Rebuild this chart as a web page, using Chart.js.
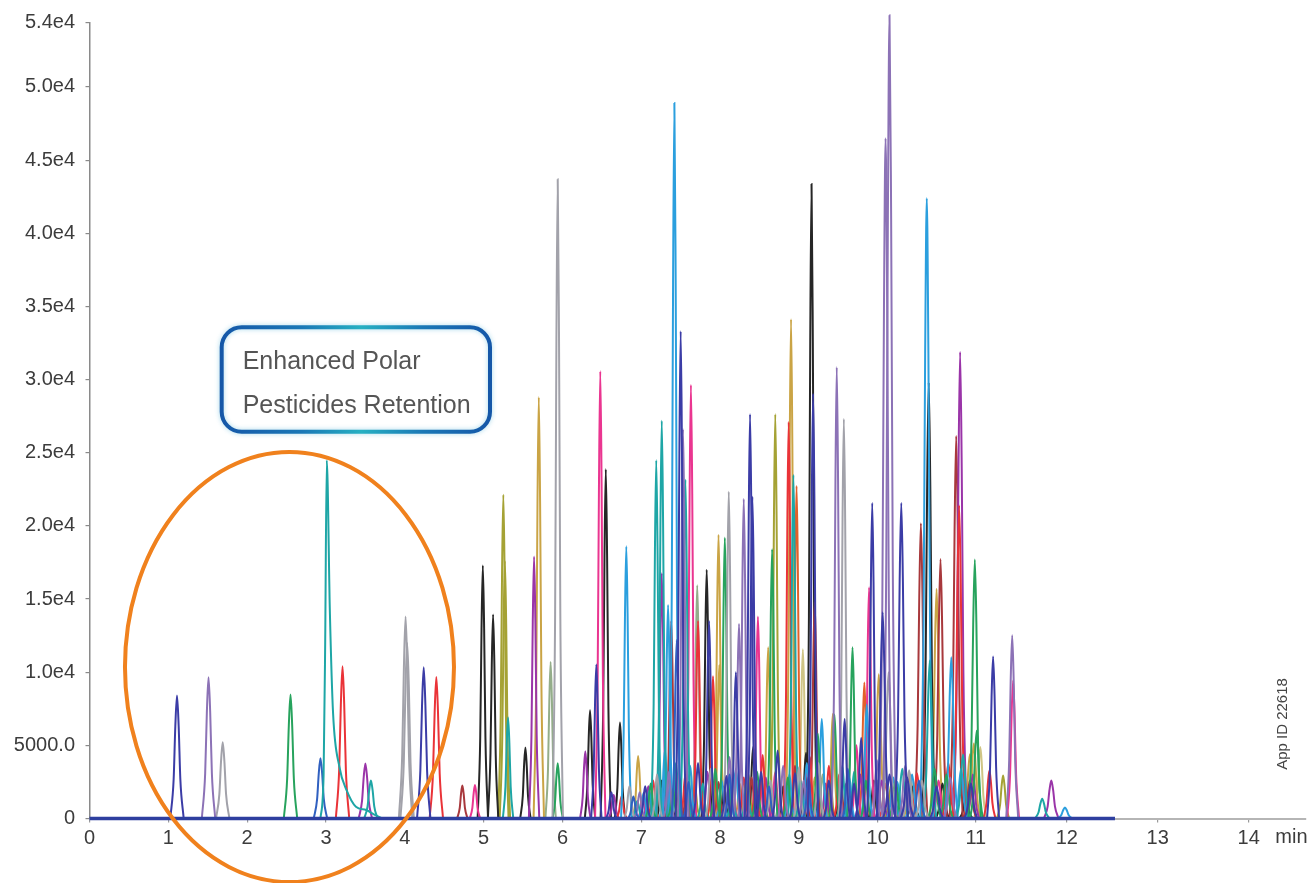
<!DOCTYPE html>
<html>
<head>
<meta charset="utf-8">
<title>Polar pesticides chromatogram</title>
<script src="https://cdn.jsdelivr.net/npm/chart.js@4.4.1/dist/chart.umd.min.js"></script>
<style>
  html, body { margin: 0; padding: 0; background: #ffffff; }
  canvas { display: block; }
</style>
</head>
<body>
<canvas id="chrom" width="1311" height="883"></canvas>
<script>
// ---- Axis ticks ----
const minuteTicks = [0, 1, 2, 3, 4, 5, 6, 7, 8, 9, 10, 11, 12, 13, 14];
const minuteTickLabels = ['0', '1', '2', '3', '4', '5', '6', '7', '8', '9', '10', '11', '12', '13', '14'];
const intensityTicks = [0, 5000, 10000, 15000, 20000, 25000, 30000, 35000, 40000, 45000, 50000, 54400];
const intensityTickLabels = ['0', '5000.0', '1.0e4', '1.5e4', '2.0e4', '2.5e4', '3.0e4', '3.5e4', '4.0e4', '4.5e4', '5.0e4', '5.4e4'];

// ---- Peaks per trace colour: [retention time (min), height (counts)] ----
const indigoPeaks = [[1.11, 8400], [4.24, 10330], [6.43, 10530], [6.62, 1800], [7.05, 2200], [7.50, 33300], [7.72, 3800], [7.86, 13500], [8.08, 2900], [8.20, 10000], [8.38, 27630], [8.41, 22000], [8.52, 3200], [8.73, 4650], [8.95, 3100], [9.18, 29040], [9.38, 2600], [9.58, 6800], [9.70, 2400], [9.79, 5500], [9.93, 21570], [10.05, 14100], [10.12, 3000], [10.24, 21570], [10.30, 2800], [10.60, 2200], [10.95, 2400], [11.19, 11080]];
const bluePeaks = [[2.93, 4120], [6.90, 1500], [7.45, 12200], [7.60, 2500], [8.12, 3000], [8.62, 2200], [9.12, 2800], [9.62, 3400], [10.42, 2600]];
const lavenderPeaks = [[1.51, 9650], [6.98, 1800], [7.35, 3200], [7.53, 26600], [8.12, 4200], [8.24, 13300], [8.30, 21840], [8.80, 3600], [9.06, 2600], [9.48, 30850], [9.99, 4000], [10.08, 46500], [10.12, 54900], [10.28, 3600], [10.74, 2800], [11.40, 12520]];
const grayPeaks = [[1.69, 5220], [4.01, 13800], [4.03, 12000], [5.94, 43700], [6.85, 2200], [7.20, 3000], [7.88, 3400], [8.11, 22330], [8.64, 2600], [9.00, 3500], [9.25, 3800], [9.57, 27300], [10.11, 10000], [10.32, 3300], [10.45, 2600]];
const greenPeaks = [[2.55, 8480], [5.94, 3780], [7.12, 2400], [7.40, 2000], [7.94, 3400], [8.06, 19200], [8.47, 3200], [8.66, 18400], [8.86, 2800], [9.24, 5800], [9.45, 7100], [9.68, 11700], [9.85, 2600], [10.18, 2600], [10.58, 3400], [10.70, 3000], [10.99, 17700], [11.01, 6000]];
const tealPeaks = [[3.57, 2600], [5.31, 6900], [6.95, 1200], [7.19, 24490], [7.26, 27180], [7.44, 3800], [7.56, 23150], [7.78, 2400], [8.15, 2500], [8.34, 3000], [8.93, 23480], [9.02, 2600], [9.55, 3600], [9.70, 3200], [10.25, 3400], [10.53, 10800], [10.87, 4380], [11.73, 1350]];
const lightBluePeaks = [[6.81, 18600], [7.03, 1740], [7.10, 1880], [7.22, 3200], [7.30, 4680], [7.34, 14600], [7.42, 48900], [7.62, 3600], [8.02, 2600], [8.20, 3400], [8.88, 3000], [9.10, 3800], [9.29, 6800], [9.64, 2800], [9.86, 7800], [10.16, 2800], [10.20, 2500], [10.35, 3000], [10.50, 42400], [10.75, 11030], [10.85, 3400], [11.98, 750]];
const redPeaks = [[3.21, 10400], [4.40, 9670], [6.75, 1500], [7.15, 2600], [7.56, 3000], [7.72, 13500], [7.91, 9730], [8.30, 2800], [8.45, 2600], [8.54, 4340], [8.87, 27100], [9.14, 4200], [9.38, 3600], [9.51, 3000], [10.08, 2400], [10.40, 3100], [10.72, 3800], [10.83, 21400], [11.15, 3280]];
const purplePeaks = [[3.50, 3760], [5.64, 17900], [6.29, 4600], [6.65, 1600], [7.09, 2200], [7.26, 16760], [7.84, 3200], [8.58, 2800], [9.34, 2400], [9.78, 3000], [10.04, 2600], [10.84, 31880], [10.97, 3000], [11.83, 2600]];
const pinkPeaks = [[4.89, 2290], [6.48, 30570], [7.02, 1500], [7.32, 2600], [7.63, 29630], [8.16, 2400], [8.48, 13800], [8.70, 3200], [9.10, 3500], [9.73, 5000], [9.89, 15800], [10.30, 2800], [10.62, 2600], [11.41, 9440]];
const brownPeaks = [[4.73, 2260], [7.38, 13500], [7.58, 2600], [7.98, 2500], [8.40, 2800], [8.95, 3600], [9.20, 14800], [9.60, 2400], [10.20, 2200], [10.44, 20180], [10.64, 17730], [10.80, 26140], [10.94, 2600]];
const blackPeaks = [[4.99, 17300], [5.12, 13950], [5.53, 4860], [6.35, 7400], [6.55, 23870], [6.73, 6560], [7.26, 2600], [7.48, 2800], [7.83, 17000], [8.05, 2200], [8.42, 4900], [8.80, 2200], [9.09, 4500], [9.16, 43370], [9.52, 3000], [9.95, 2600], [10.36, 2200], [10.52, 29800], [10.66, 2400], [10.90, 1500]];
const olivePeaks = [[5.25, 22130], [5.27, 17600], [7.68, 2200], [7.90, 2600], [8.36, 3000], [8.70, 27630], [9.40, 2400], [10.14, 2400], [11.30, 2940]];
const goldPeaks = [[5.70, 28800], [6.96, 4270], [7.25, 2000], [7.58, 2200], [7.98, 19400], [7.99, 10500], [8.25, 2400], [8.61, 11700], [8.90, 34130], [9.20, 2800], [9.43, 7150], [10.01, 9860], [10.33, 3000], [10.60, 15700], [10.94, 4400], [10.98, 5130]];
const sagePeaks = [[5.85, 10700], [7.71, 15950], [8.20, 3200], [9.30, 3000], [10.00, 2600]];
const orangePeaks = [[8.97, 22730], [9.83, 9300]];
const khakiPeaks = [[9.05, 11560], [11.05, 4880]];

// Strongly tailing early eluter, traced point by point: [min, counts]
const tealTailTrace = [[2.93, 0], [2.97, 3000], [2.99, 12000], [3.01, 24490], [3.05, 14000], [3.09, 7200], [3.17, 3540], [3.26, 1950], [3.38, 800], [3.51, 580], [3.62, 250], [3.72, 0]];

// Acquisition window of the baseline trace (min)
const baselineWindow = [0, 12.53];

// ---- Styles ----
const FONT = '"Liberation Sans", Arial, Helvetica, sans-serif';
const TEXT = '#3c3c3c';
const traceGroups = [
  { peaks: indigoPeaks, color: '#3b3ca6' },
  { peaks: bluePeaks, color: '#3060c0' },
  { peaks: lavenderPeaks, color: '#8c72b6' },
  { peaks: grayPeaks, color: '#a2a2aa' },
  { peaks: greenPeaks, color: '#27a35d' },
  { peaks: tealPeaks, color: '#1ea6a6' },
  { peaks: lightBluePeaks, color: '#2b9fde' },
  { peaks: redPeaks, color: '#ea3338' },
  { peaks: purplePeaks, color: '#9a34a8' },
  { peaks: pinkPeaks, color: '#ea3590' },
  { peaks: brownPeaks, color: '#a8383c' },
  { peaks: blackPeaks, color: '#262626' },
  { peaks: olivePeaks, color: '#a5a234' },
  { peaks: goldPeaks, color: '#caa445' },
  { peaks: sagePeaks, color: '#94ad8a' },
  { peaks: orangePeaks, color: '#e2602a' },
  { peaks: khakiPeaks, color: '#cfc585' }
];

// Peak outline: offsets in half-widths and relative levels
const PEAK_OUTLINE = { offsets: [-1, -0.5, -0.25, 0, 0.25, 0.5, 1], levels: [0, 0.32, 0.75, 1, 0.75, 0.32, 0] };
function halfWidth(t) { return t < 4.6 ? 0.085 : (t > 11.5 ? 0.08 : 0.066); }

// Time axis is expanded after 10 min
const timeSegments = [{ from: 0, rate: 1 }, { from: 10, rate: 1.244 }, { from: 11, rate: 1.154 }];
function stretch(v) {
  if (v <= 0) return v;
  let u = 0;
  for (let i = 0; i < timeSegments.length; i++) {
    const s = timeSegments[i];
    const end = i + 1 < timeSegments.length ? timeSegments[i + 1].from : Infinity;
    if (v <= s.from) break;
    u += (Math.min(v, end) - s.from) * s.rate;
  }
  return u;
}
function unstretch(u) {
  if (u <= 0) return u;
  let acc = 0;
  for (let i = 0; i < timeSegments.length; i++) {
    const s = timeSegments[i];
    const end = i + 1 < timeSegments.length ? timeSegments[i + 1].from : Infinity;
    const span = (end - s.from) * s.rate;
    if (!isFinite(span) || u <= acc + span) return s.from + (u - acc) / s.rate;
    acc += span;
  }
  return u;
}

class StretchedTimeScale extends Chart.LinearScale {
  getPixelForValue(value) {
    if (value === null || value === undefined || Number.isNaN(+value)) return NaN;
    const a = stretch(this.min), b = stretch(this.max);
    return this.getPixelForDecimal((stretch(+value) - a) / (b - a));
  }
  getValueForPixel(pixel) {
    const a = stretch(this.min), b = stretch(this.max);
    return unstretch(a + this.getDecimalForPixel(pixel) * (b - a));
  }
}
StretchedTimeScale.id = 'stretchedTime';
StretchedTimeScale.defaults = Chart.LinearScale.defaults;
Chart.register(StretchedTimeScale);

// ---- Datasets ----
const lineBase = { pointRadius: 0, pointHoverRadius: 0, fill: false, clip: false, cubicInterpolationMode: 'monotone' };

function peakDataset(t, h, color) {
  const w = halfWidth(t);
  return Object.assign({
    data: PEAK_OUTLINE.offsets.map((o, i) => ({ x: t + o * w, y: h * PEAK_OUTLINE.levels[i] })),
    borderColor: color, borderWidth: 2
  }, lineBase);
}

const datasets = [];
// baseline first so it is painted on top of the peak feet
datasets.push({
  data: baselineWindow.map(t => ({ x: t, y: 0 })),
  borderColor: '#2e3f9f', borderWidth: 3.5, tension: 0,
  pointRadius: 0, fill: false, clip: false
});

datasets.push(Object.assign({
  data: tealTailTrace.map(([t, h]) => ({ x: t, y: h })),
  borderColor: '#1ea6a6', borderWidth: 2
}, lineBase));

traceGroups.forEach(g => g.peaks.forEach(([t, h]) => datasets.push(peakDataset(t, h, g.color))));

// ---- Overlays: callout box, highlight ellipse, unit label, app id ----
const overlay = {
  id: 'chromOverlay',
  afterDraw(chart) {
    const { ctx } = chart;
    const x = chart.scales.x, y = chart.scales.y;

    // callout box
    const bl = x.getPixelForValue(1.677), br = x.getPixelForValue(5.081);
    const bt = y.getPixelForValue(33573), bb = y.getPixelForValue(26439);
    const r = 20;
    ctx.save();
    const grad = ctx.createLinearGradient(bl, 0, br, 0);
    grad.addColorStop(0, '#1557a8');
    grad.addColorStop(0.3, '#1a78b6');
    grad.addColorStop(0.52, '#26b0c2');
    grad.addColorStop(0.75, '#1a78b6');
    grad.addColorStop(1, '#1557a8');
    ctx.beginPath();
    ctx.moveTo(bl + r, bt);
    ctx.lineTo(br - r, bt);
    ctx.arcTo(br, bt, br, bt + r, r);
    ctx.lineTo(br, bb - r);
    ctx.arcTo(br, bb, br - r, bb, r);
    ctx.lineTo(bl + r, bb);
    ctx.arcTo(bl, bb, bl, bb - r, r);
    ctx.lineTo(bl, bt + r);
    ctx.arcTo(bl, bt, bl + r, bt, r);
    ctx.closePath();
    ctx.shadowColor = 'rgba(60,170,210,0.45)';
    ctx.shadowBlur = 5;
    ctx.strokeStyle = grad;
    ctx.lineWidth = 4;
    ctx.stroke();
    ctx.shadowBlur = 0;
    ctx.fillStyle = '#555555';
    ctx.font = '25px ' + FONT;
    ctx.textAlign = 'left';
    ctx.textBaseline = 'middle';
    ctx.fillText('Enhanced Polar', bl + 21, bt + 34.5);
    ctx.fillText('Pesticides Retention', bl + 21, bt + 79);
    ctx.restore();

    // highlight ellipse round the early eluters
    const cx = x.getPixelForValue(2.537), cy = y.getPixelForValue(10355);
    const rx = x.getPixelForValue(2.537 + 2.087) - cx;
    const ry = cy - y.getPixelForValue(10355 + 14696);
    ctx.save();
    ctx.beginPath();
    ctx.ellipse(cx, cy, rx, ry, 0, 0, Math.PI * 2);
    ctx.strokeStyle = '#f0811d';
    ctx.lineWidth = 4;
    ctx.stroke();
    ctx.restore();

    // unit label after the last minute tick
    ctx.save();
    ctx.fillStyle = TEXT;
    ctx.font = '20px ' + FONT;
    ctx.textAlign = 'center';
    ctx.textBaseline = 'middle';
    ctx.fillText('min', x.getPixelForValue(14.47), y.bottom + 18.5);
    ctx.restore();

    // application id, vertical
    ctx.save();
    ctx.translate(1283, 724);
    ctx.rotate(-Math.PI / 2);
    ctx.fillStyle = '#444444';
    ctx.font = '15px ' + FONT;
    ctx.textAlign = 'center';
    ctx.textBaseline = 'middle';
    ctx.fillText('App ID 22618', 0, 0);
    ctx.restore();
  }
};

new Chart(document.getElementById('chrom'), {
  type: 'line',
  data: { datasets },
  options: {
    responsive: false,
    animation: false,
    devicePixelRatio: 1,
    layout: { padding: { left: 0, right: 5, top: 22.6, bottom: 0 } },
    plugins: { legend: { display: false }, tooltip: { enabled: false } },
    events: [],
    scales: {
      x: {
        type: 'stretchedTime',
        min: 0,
        max: 14.63,
        afterBuildTicks: s => { s.ticks = minuteTicks.map(v => ({ value: v })); },
        afterFit: s => { s.height = 64.5; },
        ticks: {
          autoSkip: false, maxRotation: 0, padding: 4, color: TEXT,
          font: { family: FONT, size: 20 },
          callback: (v, i) => minuteTickLabels[i]
        },
        grid: { drawOnChartArea: false, tickLength: 4, color: '#9a9a9a', lineWidth: 1.2 },
        border: { display: true, color: '#b5b5b5', width: 2 }
      },
      y: {
        type: 'linear',
        min: 0,
        max: 54400,
        afterBuildTicks: s => { s.ticks = intensityTicks.map(v => ({ value: v })); },
        afterFit: s => { s.width = 89.5; },
        ticks: {
          autoSkip: false, padding: 10.5, color: TEXT,
          font: { family: FONT, size: 20 },
          callback: (v, i) => intensityTickLabels[i]
        },
        grid: { drawOnChartArea: false, tickLength: 4, color: '#8a8a8a', lineWidth: 1.2 },
        border: { display: true, color: '#8a8a8a', width: 1.5 }
      }
    }
  },
  plugins: [overlay]
});
</script>
</body>
</html>
